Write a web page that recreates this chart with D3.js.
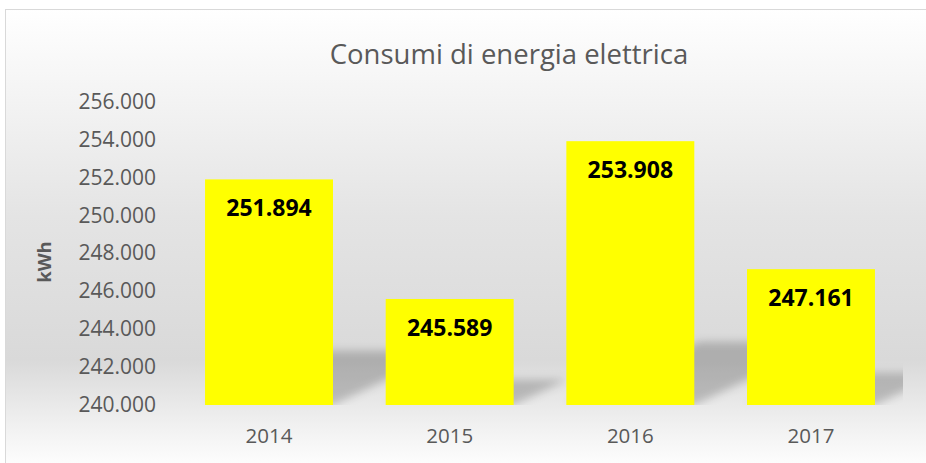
<!DOCTYPE html>
<html>
<head>
<meta charset="utf-8">
<script src="https://cdn.jsdelivr.net/npm/d3@7"></script>
<style>
  html, body { margin: 0; padding: 0; background: #fff; }
  svg { display: block; font-family: 'Open Sans', sans-serif; }
</style>
</head>
<body>
<script>
(function(){
'use strict';

var years = ['2014', '2015', '2016', '2017'];
var consumi = [251894, 245589, 253908, 247161];
var yTicks = [240000, 242000, 244000, 246000, 248000, 250000, 252000, 254000, 256000];

var W = 926, H = 463;
var plot = {left: 178.7, right: 901.3, top: 101.5, bottom: 405};

// italian thousands separator
function itFmt(d){ return d3.format(',')(d).replace(/,/g, '.'); }

var svg = d3.select('body').append('svg')
  .attr('width', W)
  .attr('height', H);

var defs = svg.append('defs');

var bg = defs.append('linearGradient')
  .attr('id', 'bg')
  .attr('gradientUnits', 'userSpaceOnUse')
  .attr('x1', 0).attr('y1', 9).attr('x2', 0).attr('y2', 470);
bg.append('stop').attr('offset', '0').attr('stop-color', '#ffffff');
bg.append('stop').attr('offset', '0.45').attr('stop-color', '#e4e4e4');
bg.append('stop').attr('offset', '0.76').attr('stop-color', '#d9d9d9');
bg.append('stop').attr('offset', '0.9').attr('stop-color', '#f0f0f0');
bg.append('stop').attr('offset', '1').attr('stop-color', '#ffffff');

defs.append('filter').attr('id', 'blur')
  .attr('x', '-50%').attr('y', '-50%').attr('width', '200%').attr('height', '200%')
  .append('feGaussianBlur').attr('stdDeviation', 4.5);

defs.append('clipPath').attr('id', 'plotclip')
  .append('rect')
  .attr('x', plot.left).attr('y', 0)
  .attr('width', 903 - plot.left).attr('height', plot.bottom);

// chart area
svg.append('rect')
  .attr('x', 5.5).attr('y', 9.5)
  .attr('width', 1000).attr('height', 600)
  .attr('fill', 'url(#bg)')
  .attr('stroke', '#d9d9d9')
  .attr('stroke-width', 1);

var x = d3.scaleBand()
  .domain(years)
  .range([plot.left, plot.right])
  .paddingInner(0.2917)
  .paddingOuter(0.1458);

var y = d3.scaleLinear()
  .domain([240000, 256000])
  .range([plot.bottom, plot.top]);

// title
svg.append('text')
  .attr('x', 509).attr('y', 64)
  .attr('text-anchor', 'middle')
  .attr('font-size', 27.5)
  .attr('fill', '#595959')
  .text('Consumi di energia elettrica');

// y axis (labels only)
var yAxis = svg.append('g')
  .attr('transform', 'translate(156,0)')
  .call(d3.axisLeft(y).tickValues(yTicks).tickSize(0).tickPadding(0).tickFormat(itFmt));
yAxis.select('.domain').remove();
yAxis.selectAll('text')
  .attr('font-family', "'Open Sans', sans-serif")
  .attr('font-size', 21)
  .attr('fill', '#595959');

svg.append('text')
  .attr('transform', 'translate(51,262) rotate(-90)')
  .attr('text-anchor', 'middle')
  .attr('font-size', 18.5)
  .attr('font-weight', 'bold')
  .attr('fill', '#595959')
  .text('kWh');

// x axis
var xAxis = svg.append('g')
  .attr('transform', 'translate(0,' + plot.bottom + ')')
  .call(d3.axisBottom(x).tickSize(0).tickPadding(0));
xAxis.select('.domain').remove();
xAxis.selectAll('text')
  .attr('font-family', "'Open Sans', sans-serif")
  .attr('font-size', 20.5)
  .attr('fill', '#595959')
  .attr('dy', 38);

// perspective shadows
svg.append('g')
  .attr('clip-path', 'url(#plotclip)')
  .selectAll('polygon')
  .data(consumi)
  .enter()
  .append('polygon')
  .attr('points', function(d, i){
    var x0 = x(years[i]), x1 = x0 + x.bandwidth();
    var h = (plot.bottom - y(d)) * 0.24;
    var dx = h * 2.1;
    return [[x0, plot.bottom], [x1, plot.bottom], [x1 + dx, plot.bottom - h], [x0 + dx, plot.bottom - h]].join(' ');
  })
  .attr('fill', '#000')
  .attr('fill-opacity', 0.2)
  .attr('filter', 'url(#blur)');

// bars
svg.append('g').selectAll('rect')
  .data(consumi)
  .enter()
  .append('rect')
  .attr('x', function(d, i){ return x(years[i]); })
  .attr('y', function(d){ return y(d); })
  .attr('width', x.bandwidth())
  .attr('height', function(d){ return plot.bottom - y(d); })
  .attr('fill', '#ffff00');

// data labels
svg.append('g').selectAll('text')
  .data(consumi)
  .enter()
  .append('text')
  .attr('x', function(d, i){ return x(years[i]) + x.bandwidth() / 2; })
  .attr('y', function(d){ return y(d) + 37; })
  .attr('text-anchor', 'middle')
  .attr('font-size', 23)
  .attr('font-weight', 'bold')
  .attr('fill', '#000')
  .text(itFmt);

})();
</script>
</body>
</html>
